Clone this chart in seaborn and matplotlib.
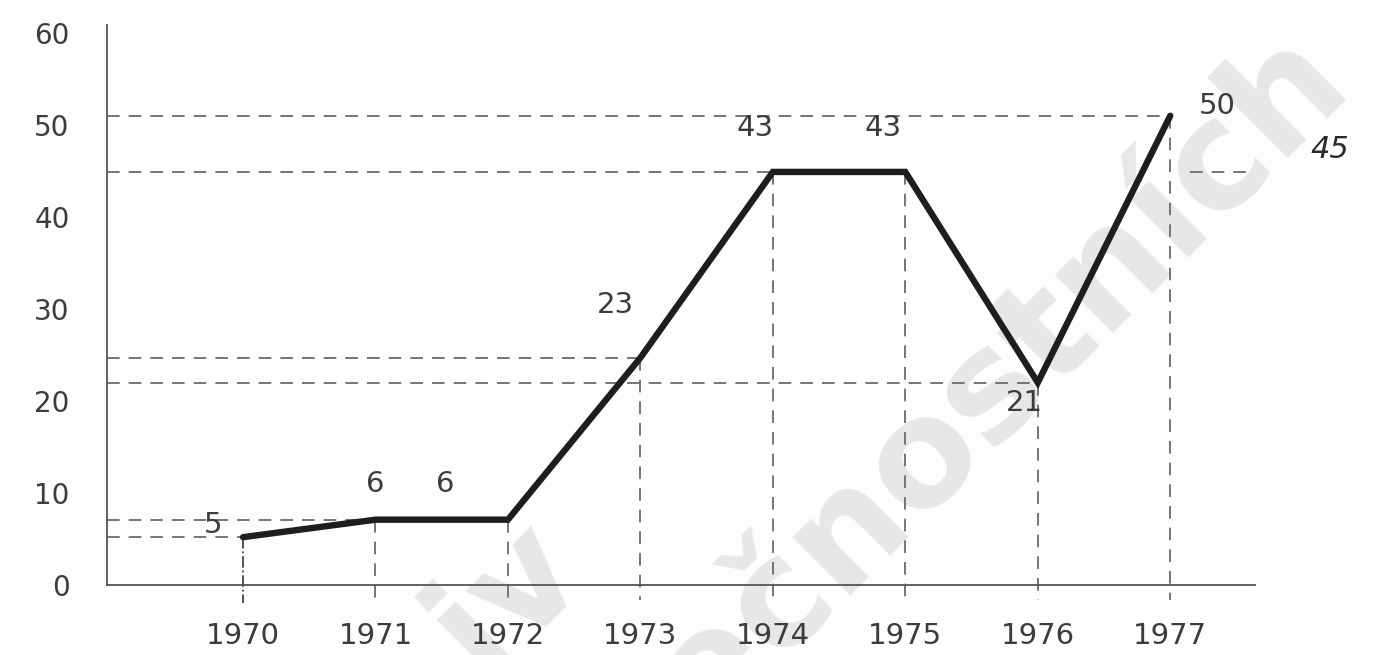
import matplotlib
matplotlib.use("Agg")
import matplotlib.pyplot as plt
import seaborn as sns
import pandas as pd

# ---- data ----
years = [1970, 1971, 1972, 1973, 1974, 1975, 1976, 1977]
drawn = [5.2, 7.1, 7.1, 24.7, 44.9, 44.9, 22.0, 51.0]      # heights as drawn
labels = ["5", "6", "6", "23", "43", "43", "21", "50"]       # values printed
yticks = [0, 10, 20, 30, 40, 50, 60]
note = "45"

df = pd.DataFrame({"year": years, "value": drawn})

sns.set_theme(style="white")
plt.rcParams["font.family"] = ["DejaVu Sans"]

BG = "#fdfdfb"
fig = plt.figure(figsize=(13.79, 6.55), dpi=100, facecolor=BG)

# watermark (behind everything), only partly visible in the scan
wm = dict(fontsize=108, fontweight="bold", color="#e7e7e7", rotation=45,
          rotation_mode="anchor", zorder=0, va="baseline")
fig.text(1352 / 1379, 1 - 82 / 655, "bezpečnostních", ha="right", **wm)
fig.text(588 / 1379, 1 - 572 / 655, "iv", ha="right", **wm)

ax = fig.add_axes([107 / 1379, 1 - 585 / 655, (1255 - 107) / 1379, (585 - 25) / 655])
ax.set_zorder(2)
ax.patch.set_alpha(0)
XMIN, XMAX = 1968.973, 1977.64
ax.set_xlim(XMIN, XMAX)
ax.set_ylim(0, 60.87)

dash_kw = dict(color="#6a6a6a", lw=1.3, dashes=(7, 5), clip_on=False, zorder=2)

# horizontal guide lines from the axis to the points
for i in [0, 1, 3, 5, 6, 7]:
    ax.plot([XMIN, years[i]], [drawn[i], drawn[i]], **dash_kw)
# short guide right of the last point
ax.plot([1977.15, XMAX], [drawn[5], drawn[5]], **dash_kw)

# vertical guide lines from the points to below the axis
for i, (x, y) in enumerate(zip(years, drawn)):
    if i == 0:
        ax.plot([x, x], [y, -2.0], color="#444", lw=1.3, ls="-.", clip_on=False, zorder=2)
    else:
        ax.plot([x, x], [y, -1.6], **dash_kw)

# main line
sns.lineplot(data=df, x="year", y="value", ax=ax, color="#1e1e1e", lw=4.6,
             zorder=4, solid_joinstyle="miter")

# value labels
offsets_px = [(-30, 12), (0, 36), (-63, 36), (-25, 53), (-18, 44), (-22, 44),
              (-13, -20), (47, 10)]
for x, y, t, (dx, dy) in zip(years, drawn, labels, offsets_px):
    ax.annotate(t, (x, y), xytext=(dx * 0.72, dy * 0.72), textcoords="offset points",
                ha="center", va="center", fontsize=21, color="#3c3c3c", zorder=5)

# handwritten note
fig.text(1330 / 1379, 1 - 150 / 655, note, ha="center", va="center", fontsize=22,
         style="italic", color="#2a2a2a", zorder=3)

# axes styling
sns.despine(ax=ax)
for s in ["left", "bottom"]:
    ax.spines[s].set_color("#555")
    ax.spines[s].set_linewidth(1.3)
ax.set_xticks(years)
ax.set_xticklabels([str(y) for y in years])
ax.set_yticks(yticks)
ax.set_yticklabels([str(v) for v in yticks])
ax.tick_params(axis="x", direction="inout", length=10, width=1.1, color="#555",
               labelsize=21, labelcolor="#3c3c3c", pad=22)
ax.tick_params(axis="y", direction="inout", length=14, width=1.1, color="#555",
               labelsize=20, labelcolor="#3c3c3c", pad=20)
ax.set_xlabel("")
ax.set_ylabel("")
ax.grid(False)

fig.savefig("out.png", dpi=100, facecolor=BG)
